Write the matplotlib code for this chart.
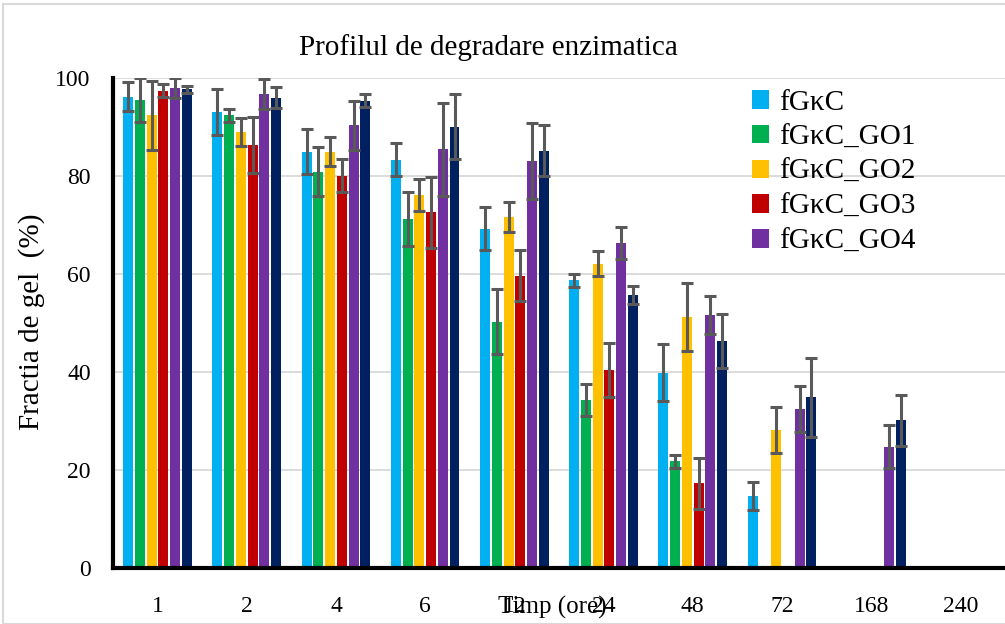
import matplotlib
matplotlib.use("Agg")
import matplotlib.pyplot as plt
import numpy as np
from matplotlib.patches import Rectangle

plt.rcParams['font.family'] = ['Liberation Serif', 'DejaVu Serif']

categories = ["1", "2", "4", "6", "12", "24", "48", "72", "168", "240"]
nan = np.nan

# values (%); nan = no bar
fGkC     = [96.2, 93.1, 85.0, 83.3, 69.2, 58.7, 39.9, 14.7, nan, nan]
fGkC_GO1 = [95.5, 92.4, 80.9, 71.2, 50.3, 34.3, 21.8, nan, nan, nan]
fGkC_GO2 = [92.4, 89.0, 85.0, 76.1, 71.6, 62.1, 51.2, 28.2, nan, nan]
fGkC_GO3 = [97.4, 86.3, 80.1, 72.6, 59.6, 40.4, 17.3, nan, nan, nan]
fGkC_GO4 = [97.9, 96.7, 90.4, 85.5, 83.1, 66.3, 51.6, 32.4, 24.8, nan]
fGkC_GO5 = [97.7, 96.0, 95.4, 90.1, 85.2, 55.7, 46.3, 34.8, 30.2, nan]

# error bars (+/-)
err_fGkC     = [3.0, 4.7, 4.5, 3.4, 4.4, 1.4, 5.8, 2.9, nan, nan]
err_fGkC_GO1 = [4.5, 1.3, 5.0, 5.5, 6.6, 3.3, 1.3, nan, nan, nan]
err_fGkC_GO2 = [7.0, 2.9, 2.9, 3.3, 3.0, 2.6, 7.0, 4.7, nan, nan]
err_fGkC_GO3 = [1.3, 5.7, 3.3, 7.2, 5.2, 5.5, 5.2, nan, nan, nan]
err_fGkC_GO4 = [2.0, 3.1, 5.0, 9.5, 7.8, 3.3, 3.9, 4.7, 4.4, nan]
err_fGkC_GO5 = [0.7, 2.1, 1.4, 6.7, 5.2, 1.9, 5.5, 8.0, 5.2, nan]

series = [fGkC, fGkC_GO1, fGkC_GO2, fGkC_GO3, fGkC_GO4, fGkC_GO5]
errors = [err_fGkC, err_fGkC_GO1, err_fGkC_GO2, err_fGkC_GO3, err_fGkC_GO4, err_fGkC_GO5]
labels = ["fGκC", "fGκC_GO1", "fGκC_GO2", "fGκC_GO3", "fGκC_GO4", None]
colors = ["#00B0F0", "#00B050", "#FFC000", "#C00000", "#7030A0", "#002060"]

fig = plt.figure(figsize=(10.05, 6.24), dpi=100)
ax = fig.add_axes([0.1124, 0.0897, 0.8876, 0.7853])

x = np.arange(len(categories))
pitch = 0.1315
width = 0.112
for i, (vals, errs, lab, col) in enumerate(zip(series, errors, labels, colors)):
    pos = x + (i - 2.5) * pitch
    ax.bar(pos, vals, width=width, color=col, label=lab, zorder=2)
    ax.errorbar(pos, vals, yerr=errs, fmt="none", ecolor="#595959",
                elinewidth=2.2, capsize=4.5, capthick=2.2, zorder=3)

ax.set_xlim(-0.5, len(categories) - 0.5)
ax.set_ylim(0, 100)
ax.set_yticks(np.arange(0, 101, 20))
ax.set_xticks(x)
ax.set_xticklabels(categories)
ax.tick_params(axis="both", length=0, labelsize=17)
ax.tick_params(axis="x", pad=20)
ax.tick_params(axis="y", pad=16)
ax.grid(axis="y", color="#d9d9d9", linewidth=1.3, zorder=0)
ax.set_axisbelow(True)
for s in ["top", "right"]:
    ax.spines[s].set_visible(False)
ax.spines["left"].set_linewidth(3)
ax.spines["bottom"].set_linewidth(3)
ax.spines["left"].set_color("black")
ax.spines["bottom"].set_color("black")

leg = ax.legend(loc="upper left", bbox_to_anchor=(0.703, 1.0), frameon=False,
                fontsize=21, handlelength=0.6, handleheight=0.6,
                handletextpad=0.35, labelspacing=0.3, borderaxespad=0)

fig.text(488 / 1005, 1 - 48 / 624, "Profilul de degradare enzimatica",
         ha="center", va="center", fontsize=21)
fig.text(552 / 1005, 1 - 607 / 624, "Timp (ore)", ha="center", va="center", fontsize=18)
fig.text(32 / 1005, 1 - 322 / 624, "Fractia de gel  (%)", ha="center", va="center",
         rotation=90, fontsize=21)

fig.patches.append(Rectangle((0.003, 0.0), 1.2, 0.994, transform=fig.transFigure,
                             fill=False, edgecolor="#d9d9d9", linewidth=1.5))

fig.savefig("out.png", dpi=100)
